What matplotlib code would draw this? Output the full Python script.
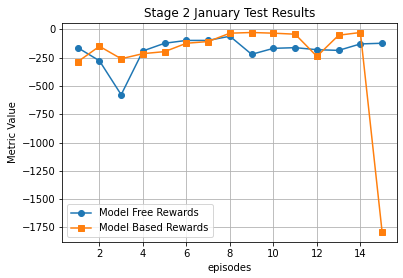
import matplotlib
matplotlib.use("Agg")
import matplotlib.pyplot as plt

episodes = list(range(1, 16))
model_free = [-161, -277, -577, -190, -122, -97, -97, -60, -220, -167, -161, -179, -185, -128, -122]
model_based = [-286, -149, -259, -214, -196, -122, -107, -33, -27, -33, -42, -238, -51, -27, -1792]

fig = plt.figure(figsize=(403/72, 278/72), dpi=72)
ax = fig.add_axes([0.155, 0.129, 0.831, 0.79])
ax.plot(episodes, model_free, marker='o', label='Model Free Rewards')
ax.plot(episodes, model_based, marker='s', label='Model Based Rewards')
ax.set_title('Stage 2 January Test Results')
ax.set_xlabel('episodes')
ax.set_ylabel('Metric Value')
ax.grid(True)
ax.legend(loc='lower left')
fig.savefig('out.png', dpi=72)
